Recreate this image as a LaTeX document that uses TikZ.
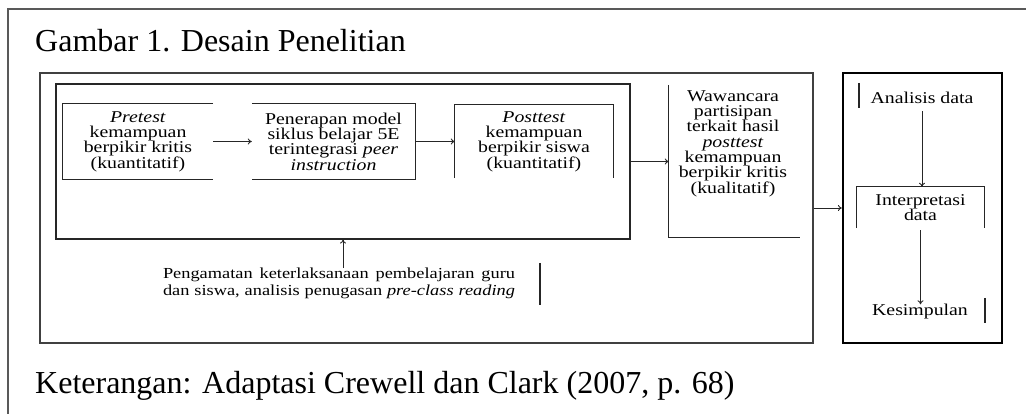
\documentclass[tikz,border=0pt]{standalone}
\usepackage{fontspec}
\setmainfont{Liberation Serif}
\newfontfamily\diafont{Liberation Serif}[FakeStretch=1.2]
\usetikzlibrary{arrows.meta,positioning}

\tikzset{
  frameline/.style={draw=black!65, line width=1.4pt},
  boxline/.style={draw=black!85, line width=1.2pt},
  arr/.style={draw=black!85, line width=0.9pt, -{To[length=4pt,width=6pt]}},
  dia/.style={font=\diafont\fontsize{16.5}{15.3}\selectfont, align=center, inner sep=0pt},
  region/.style={dia, minimum width=#1},
}

\begin{document}
\begin{tikzpicture}[x=1pt,y=1pt,yscale=-1]
\useasboundingbox (0,0) rectangle (1026,414);

%Outer frame, cut at right and bottom
\draw[frameline] (8,414) -- (8,9) -- (1026,9);

% Text Node
\node[anchor=base west, inner sep=0pt, font=\fontsize{32}{38}\selectfont] (title) at (35,52) {Gambar 1. Desain Penelitian};

%Shape: Rectangle
\node[draw=black!75, line width=1.4pt, minimum width=773pt, minimum height=270pt, inner sep=0pt] (big) at (426.5,208) {};
%Shape: Rectangle
\node[boxline, minimum width=574pt, minimum height=155pt, inner sep=0pt] (inner) at (343,161.5) {};

%Pretest box (open right side)
\node[region=150pt, minimum height=75pt] (pre) at (138,141.5) {\emph{Pretest}\\kemampuan\\berpikir kritis\\(kuantitatif)};
\draw[boxline] (pre.north east) -- (pre.north west) -- (pre.south west) -- (pre.south east);

%Penerapan box (open left side)
\node[region=163pt, minimum height=75pt] (pen) at (333.5,141.5) {Penerapan model\\siklus belajar 5E\\terintegrasi \emph{peer}\\\emph{instruction}};
\draw[boxline] (pen.north west) -- (pen.north east) -- (pen.south east) -- (pen.south west);

%Posttest box (open bottom)
\node[region=158pt, minimum height=73pt] (post) at (534,141.5) {\emph{Posttest}\\kemampuan\\berpikir siswa\\(kuantitatif)};
\draw[boxline] (post.south west) -- (post.north west) -- (post.north east) -- (post.south east);

%Wawancara box (left and bottom only)
\node[region=131pt, minimum height=152pt] (waw) at (734.5,161) {};
\draw[boxline] (waw.north west) -- (waw.south west) -- (waw.south east);
% Text Node
\node[dia] (wawtxt) at (733,143.5) {Wawancara\\partisipan\\terkait hasil\\\emph{posttest}\\kemampuan\\berpikir kritis\\(kualitatif)};

% Text Node
\node[dia, font=\diafont\fontsize{15.3}{16.5}\selectfont] (obs) at (339,283.5) {\makebox[352pt][s]{Pengamatan keterlaksanaan pembelajaran guru}\\\makebox[352pt][s]{dan siswa, analisis penugasan \emph{pre-class reading}}};
\draw[boxline] (540,263) -- (540,305);

%Right box
\node[draw=black, line width=2.2pt, minimum width=159pt, minimum height=270pt, inner sep=0pt] (rbox) at (922.5,208) {};
% Text Node
\node[dia] (ana) at (922,98) {Analisis data};
\draw[boxline] (859,83) -- (859,108);
%Interpretasi box (open bottom)
\node[region=127pt, minimum height=41pt] (int) at (920.5,207.5) {Interpretasi\\data};
\draw[boxline] (int.south west) -- (int.north west) -- (int.north east) -- (int.south east);
% Text Node
\node[dia] (kes) at (920,312) {Kesimpulan};
\draw[boxline] (985,298) -- (985,323);

%Connectors
\draw[arr] (pre.east) -- (pen.west);
\draw[arr] (pen.east) -- (post.west);
\draw[arr] (inner.east) -- (inner.east -| waw.west);
\draw[arr] (big.east) -- (big.east -| rbox.west);
\coordinate (obsup) at ([xshift=4pt]obs.north);
\draw[arr] (obsup) -- (obsup |- inner.south);
\draw[arr] (ana.south) ++(0,7) -- (ana.south |- int.north);
\draw[arr] (int.south) ++(0,2) -- (int.south |- kes.north);

% Text Node
\node[anchor=base west, inner sep=0pt, font=\fontsize{32}{38}\selectfont] (note) at (35,393) {Keterangan: Adaptasi Crewell dan Clark (2007, p. 68)};

\end{tikzpicture}
\end{document}
